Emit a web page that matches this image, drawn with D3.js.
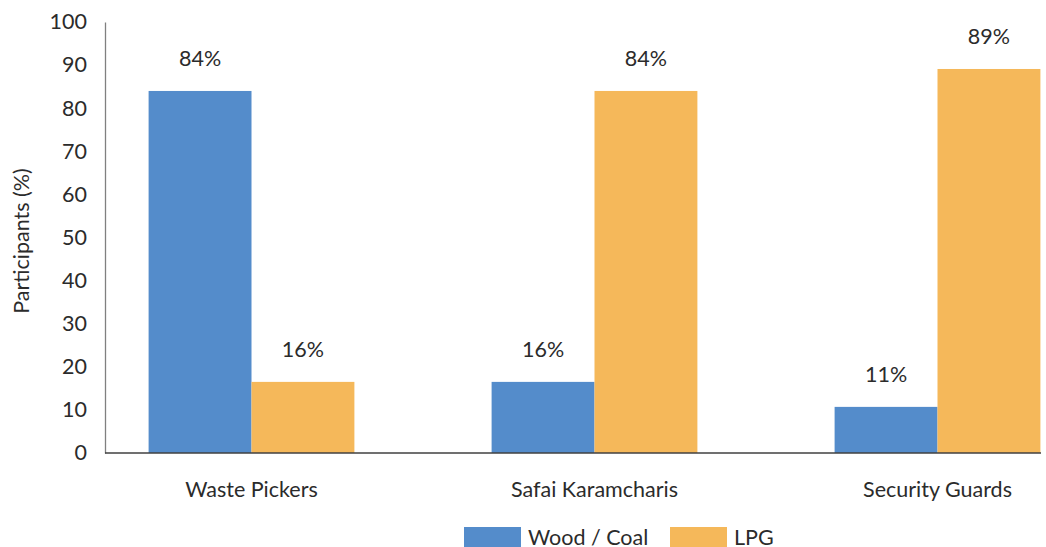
<!DOCTYPE html>
<html>
<head>
<meta charset="utf-8">
<script src="https://cdn.jsdelivr.net/npm/d3@7"></script>
<style>
  body { margin: 0; background: #fff; }
  text { font-family: Lato, "Open Sans", sans-serif; fill: #2b2b2b; }
</style>
</head>
<body>
<div id="chart"></div>
<script>
// chart data
var categories = ["Waste Pickers", "Safai Karamcharis", "Security Guards"];
var seriesNames = ["Wood / Coal", "LPG"];
var woodCoal = [84, 16.5, 10.7];
var lpg = [16.5, 84, 89.1];
var woodLabels = ["84%", "16%", "11%"];
var lpgLabels = ["16%", "84%", "89%"];
var yTicks = [0, 10, 20, 30, 40, 50, 60, 70, 80, 90, 100];

var colors = ["#548ccb", "#f5b85a"];

var width = 1046, height = 547;

var svg = d3.select("#chart").append("svg")
    .attr("width", width)
    .attr("height", height);

// scales
var x = d3.scaleBand().domain(categories).range([80, 1109])
    .paddingInner(0.4).paddingOuter(0.2);
var x1 = d3.scaleBand().domain(seriesNames).range([0, x.bandwidth()]);
var y = d3.scaleLinear().domain([0, 100]).range([453, 22]);

// rows for drawing
var rows = categories.map(function(c, i) {
  return [
    { cat: c, name: seriesNames[0], value: woodCoal[i], label: woodLabels[i] },
    { cat: c, name: seriesNames[1], value: lpg[i], label: lpgLabels[i] }
  ];
});

// bars
var groups = svg.append("g").selectAll("g")
  .data(rows)
  .enter().append("g")
    .attr("transform", function(d) { return "translate(" + x(d[0].cat) + ",0)"; });

groups.selectAll("rect")
  .data(function(d) { return d; })
  .enter().append("rect")
    .attr("x", function(d) { return x1(d.name); })
    .attr("y", function(d) { return y(d.value); })
    .attr("width", x1.bandwidth())
    .attr("height", function(d) { return y(0) - y(d.value); })
    .attr("fill", function(d, i) { return colors[i]; });

// value labels
groups.selectAll("text")
  .data(function(d) { return d; })
  .enter().append("text")
    .attr("x", function(d) { return x1(d.name) + x1.bandwidth() / 2; })
    .attr("y", function(d) { return y(d.value) - 25; })
    .attr("text-anchor", "middle")
    .style("font-size", "21.5px")
    .text(function(d) { return d.label; });

// y axis
var yAxis = svg.append("g")
    .attr("transform", "translate(105,0)")
    .call(d3.axisLeft(y).tickValues(yTicks).tickSize(0).tickPadding(18));
yAxis.select(".domain").attr("stroke", "#808080").attr("stroke-width", 1.3);
yAxis.selectAll("text").style("font-size", "21.5px").attr("fill", "#2b2b2b");

// x axis line
svg.append("line")
    .attr("x1", 105).attr("x2", 1041)
    .attr("y1", y(0)).attr("y2", y(0))
    .attr("stroke", "#404040").attr("stroke-width", 1.3);

// category labels
svg.append("g").selectAll("text")
  .data(categories)
  .enter().append("text")
    .attr("x", function(d) { return x(d) + x.bandwidth() / 2; })
    .attr("y", 497)
    .attr("text-anchor", "middle")
    .style("font-size", "21.5px")
    .text(function(d) { return d; });

// y title
svg.append("text")
    .attr("transform", "translate(29,241) rotate(-90)")
    .attr("text-anchor", "middle")
    .style("font-size", "21.5px")
    .text("Participants (%)");

// legend
var legendX = [464, 670];
var legend = svg.append("g").selectAll("g")
  .data(seriesNames)
  .enter().append("g")
    .attr("transform", function(d, i) { return "translate(" + legendX[i] + ",527)"; });
legend.append("rect")
    .attr("width", 57).attr("height", 22)
    .attr("fill", function(d, i) { return colors[i]; });
legend.append("text")
    .attr("x", 64).attr("y", 18)
    .style("font-size", "21.5px")
    .text(function(d) { return d; });
</script>
</body>
</html>
